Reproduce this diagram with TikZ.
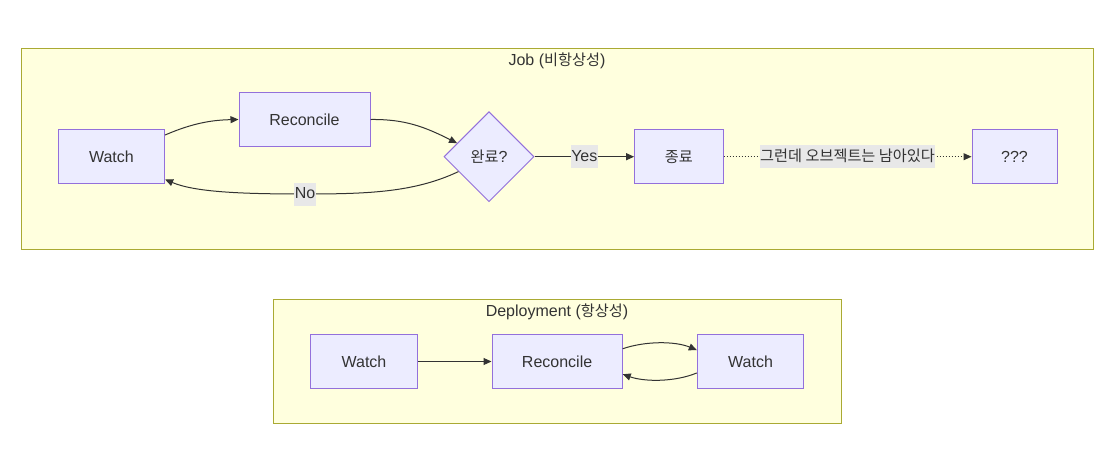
\documentclass[tikz,border=0pt]{standalone}
\usepackage{fontspec}
\setmainfont{Liberation Sans}
\newfontfamily\kr{Noto Sans CJK KR}[Scale=0.95]
\usetikzlibrary{shapes.geometric,arrows.meta}
\definecolor{nodefill}{HTML}{ECECFF}
\definecolor{nodeline}{HTML}{9370DB}
\definecolor{clfill}{HTML}{FFFFDE}
\definecolor{clline}{HTML}{AAAA33}
\definecolor{edgecol}{HTML}{333333}
\definecolor{lblbg}{HTML}{E8E8E8}
\definecolor{textcol}{HTML}{333333}
\begin{document}
\begin{tikzpicture}[x=1pt,y=-1pt,
  txt/.style={text=textcol,font=\fontsize{16}{19}\selectfont},
  box/.style={txt,draw=nodeline,fill=nodefill,line width=1pt,minimum height=54.5pt,inner sep=0pt},
  dia/.style={txt,diamond,draw=nodeline,fill=nodefill,line width=1pt,minimum width=90pt,minimum height=90pt,inner sep=0pt},
  cluster/.style={draw=clline,fill=clfill,line width=1pt,inner sep=0pt},
  lbl/.style={txt,fill=lblbg,inner xsep=0.5pt,inner ysep=3pt,text height=13pt,text depth=4pt},
  arr/.style={draw=edgecol,line width=1pt,-{Triangle[length=8pt,width=7pt]}},
  dots/.style={arr,dash pattern=on 1.5pt off 1.5pt}]
\useasboundingbox (0,0) rectangle (1113,448);
% clusters
\node[cluster,minimum width=1072.6pt,minimum height=200.7pt] (job) at (557.3,148.7) {};
\node[txt] (jobt) at (557,61) {Job ({\kr 비항상성})};
\node[cluster,minimum width=567.9pt,minimum height=124.7pt] (dep) at (557.6,361.6) {};
\node[txt] (dept) at (557,312) {Deployment ({\kr 항상성})};
% Job nodes
\node[box,minimum width=106.4pt] (w) at (111.4,156.7) {Watch};
\node[box,minimum width=131pt] (r) at (304.5,119.5) {Reconcile};
\node[dia] (d) at (489,156.7) {{\kr 완료}?};
\node[box,minimum width=88.4pt] (t) at (678.8,156.7) {{\kr 종료}};
\node[box,minimum width=85pt] (q) at (1014.5,156.7) {???};
% Job edges
\draw[arr] (w.22.2) .. controls (195,122) and (215,120) .. (r.west);
\draw[arr] (r.east) .. controls (405,119) and (425,127) .. (d.157);
\coordinate (nomid) at (305,194);
\draw[arr] (d.206.6) .. controls (415,192) and (370,194) .. (nomid) .. controls (240,194) and (195,192) .. (w.-23.6);
\node[lbl] (nolbl) at (nomid) {No};
\draw[arr] (d.east) -- node[lbl] (yeslbl) {Yes} (t.west);
\draw[dots] (t.east) -- node[lbl,solid] (klbl) {\kr 그런데 오브젝트는 남아있다} (q.west);
% Deployment nodes
\node[box,minimum width=106.5pt] (dw) at (364,361.5) {Watch};
\node[box,minimum width=130.2pt] (dr) at (557.1,361.5) {Reconcile};
\node[box,minimum width=106.6pt] (dw2) at (750.6,361.5) {Watch};
% Deployment edges
\draw[arr] (dw.east) -- (dr.west);
\draw[arr] (dr.11.3) .. controls (645,341) and (675,341) .. (dw2.168);
\draw[arr] (dw2.-168) .. controls (675,382) and (645,382) .. (dr.-11.3);
\end{tikzpicture}
\end{document}
